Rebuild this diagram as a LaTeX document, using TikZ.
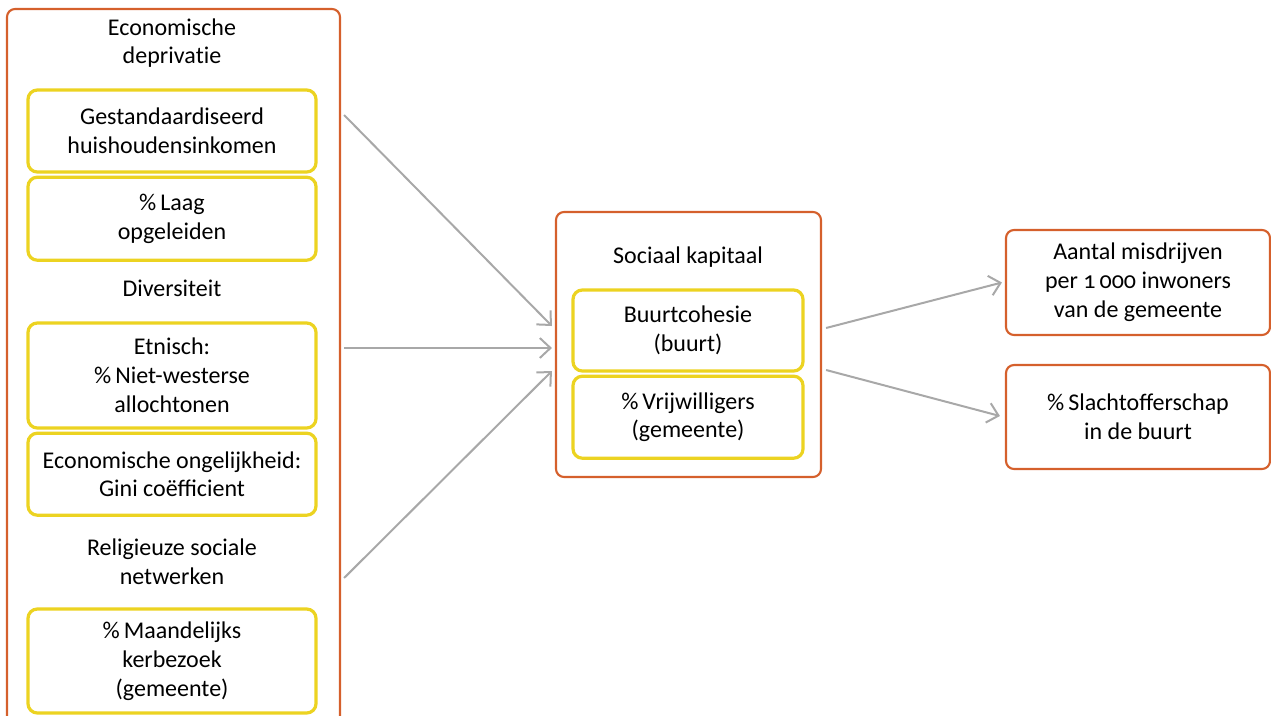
\documentclass[tikz,border=0pt]{standalone}
\usepackage{fontspec}
\setmainfont[Numbers=OldStyle]{Carlito}
\usetikzlibrary{positioning,arrows.meta,calc}
\definecolor{boxorange}{RGB}{213,96,44}
\definecolor{boxyellow}{RGB}{236,211,33}
\definecolor{arrowgray}{RGB}{168,168,168}
\tikzset{every node/.style={align=center, font=\fontsize{18}{21.6}\selectfont},
  outerbox/.style={draw=boxorange, line width=1.6pt, rounded corners=6pt, inner sep=0pt},
  innerbox/.style={draw=boxyellow, line width=2.4pt, rounded corners=7pt, inner sep=0pt},
  header/.style={inner sep=0pt},
  link/.style={draw=arrowgray, line width=1.5pt, -{Straight Barb[length=8pt, width=15pt, line width=1.5pt]}}}

\begin{document}
\begin{tikzpicture}[x=0.75pt, y=-0.75pt]
            \clip (0,0) rectangle (1271,715);
            % left column
            \node [outerbox, minimum width=249.75pt, minimum height=563.25pt] (det) at (173.5,384.5) {};
            \node [header] (dep) at (172,43) {Economische\\depriva\mbox{t}ie};
            \node [innerbox, minimum width=216pt, minimum height=61.5pt] (inc) at (172,131) {Gestandaardiseerd\\huishoudensinkomen};
            \node [innerbox, minimum width=216pt, minimum height=62.25pt, below=1.5pt of inc] (edu) {\%\,Laag\\opgeleiden};
            \node [header] (div) at (172,288) {Diversiteit};
            \node [innerbox, minimum width=216pt, minimum height=78.75pt] (eth) at (172,375.5) {Etnisch:\\\%\,Niet-westerse\\allochtonen};
            \node [innerbox, minimum width=216pt, minimum height=61.5pt, below=1.5pt of eth] (gini) {Economische ongelijkheid:\\Gini coëfficient};
            \node [header] (rel) at (172,562) {Religieuze sociale\\netwerken};
            \node [innerbox, minimum width=216pt, minimum height=78pt] (church) at (172,661) {\%\,Maandelijks\\kerbezoek\\(gemeente)};

            % middle
            \node [outerbox, minimum width=198.75pt, minimum height=198.75pt] (soc) at (688.5,344.5) {};
            \node [header] (soclab) at (688,257) {Sociaal kapitaal};
            \node [innerbox, minimum width=172.5pt, minimum height=60.75pt] (coh) at (688,330.5) {Buurtcohesie\\(buurt)};
            \node [innerbox, minimum width=172.5pt, minimum height=61.5pt, below=1.5pt of coh] (vol) {\%\,Vrijwilligers\\(gemeente)};

            % right
            \node [outerbox, minimum width=198pt, minimum height=78.75pt] (crime) at (1138,282.5) {Aantal misdrijven\\per 1\,000 inwoners\\van de gemeente};
            \node [outerbox, minimum width=198pt, minimum height=78pt] (vict) at (1138,417) {\%\,Slachtofferschap\\in de buurt};

            \path [link] ($(det.east)+(3,-269.5)$) -- ($(soc.west)+(-3,-18.5)$);
            \path [link] ($(det.east)+(3,-36.5)$) -- ($(soc.west)+(-3,3.5)$);
            \path [link] ($(det.east)+(3,193.5)$) -- ($(soc.west)+(-3,26.5)$);
            \path [link] ($(soc.east)+(4,-16.5)$) -- ($(crime.west)+(-3,0)$);
            \path [link] ($(soc.east)+(4,25.5)$) -- ($(vict.west)+(-5,-1)$);

        \end{tikzpicture}
\end{document}
